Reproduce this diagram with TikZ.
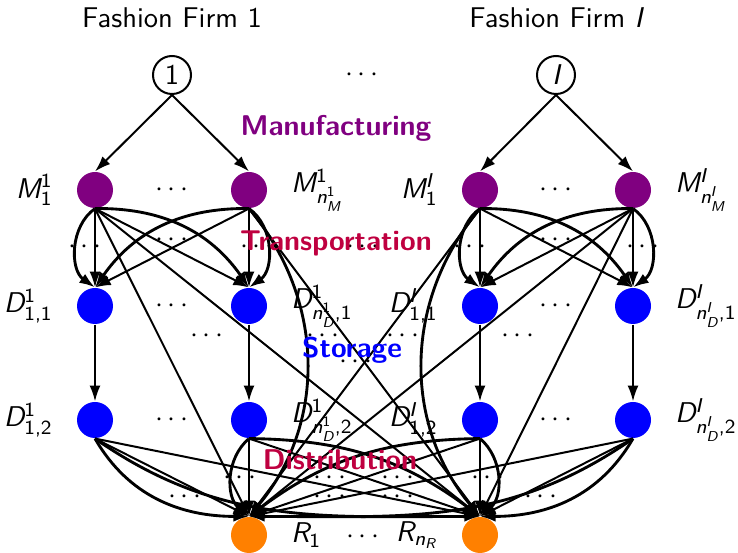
\documentclass[tikz,border=0pt]{standalone}
\usetikzlibrary{arrows.meta}
\DeclareSymbolFont{sfit}{TU}{lmss}{m}{sl}
\DeclareSymbolFont{sfup}{TU}{lmss}{m}{n}
\DeclareMathSymbol{M}{\mathalpha}{sfit}{`M}
\DeclareMathSymbol{D}{\mathalpha}{sfit}{`D}
\DeclareMathSymbol{R}{\mathalpha}{sfit}{`R}
\DeclareMathSymbol{I}{\mathalpha}{sfit}{`I}
\DeclareMathSymbol{n}{\mathalpha}{sfit}{`n}
\DeclareMathSymbol{1}{\mathord}{sfup}{`1}
\DeclareMathSymbol{2}{\mathord}{sfup}{`2}
\DeclareMathSymbol{,}{\mathpunct}{sfup}{`,}
\begin{document}
\begin{tikzpicture}[x=0.35pt,y=0.35pt,font=\sffamily,
  label distance=8pt,
  every label/.style={inner sep=0pt},
  firm/.style={circle,draw,line width=0.7pt,minimum size=13.3pt,inner sep=0pt},
  pnode/.style={circle,inner sep=0pt,minimum size=12.6pt},
  mnode/.style={pnode,fill=violet},
  dnode/.style={pnode,fill=blue},
  rnode/.style={pnode,fill=orange},
  arr/.style={-{Latex[length=5.5pt,width=3.8pt]},line width=0.7pt},
  curv/.style={arr,line width=1pt},
  dotlbl/.style={inner sep=0pt},
  sect/.style={font=\sffamily\bfseries},
]
\useasboundingbox (0,0) rectangle (738,553);

% titles and firm nodes
\node (T1) at (172,535) {Fashion Firm 1};
\node (TI) at (556,535) {Fashion Firm $I$};
\node[firm] (F1) at (172,478) {1};
\node[firm] (FI) at (556,478) {$I$};
\node[dotlbl] (dtop) at (362,478) {$\cdots$};

% manufacturing
\node[mnode,label=left:{$M_1^1$}] (M11) at (95,363) {};
\node[mnode,label=right:{$M^1_{n^1_M}$}] (M1n) at (249,363) {};
\node[mnode,label=left:{$M_1^I$}] (MI1) at (480,363) {};
\node[mnode,label=right:{$M^I_{n^I_M}$}] (MIn) at (633,363) {};

% distribution centres, level 1
\node[dnode,label=left:{$D^1_{1,1}$}] (A11) at (95,247) {};
\node[dnode,label=right:{$D^1_{n^1_D,1}$}] (A1n) at (249,247) {};
\node[dnode,label=left:{$D^I_{1,1}$}] (AI1) at (480,247) {};
\node[dnode,label=right:{$D^I_{n^I_D,1}$}] (AIn) at (633,247) {};

% distribution centres, level 2
\node[dnode,label=left:{$D^1_{1,2}$}] (B11) at (95,133) {};
\node[dnode,label=right:{$D^1_{n^1_D,2}$}] (B1n) at (249,133) {};
\node[dnode,label=left:{$D^I_{1,2}$}] (BI1) at (480,133) {};
\node[dnode,label=right:{$D^I_{n^I_D,2}$}] (BIn) at (633,133) {};

% retailers
\node[rnode,label=right:{$R_1$}] (R1) at (249,18) {};
\node[rnode,label=left:{$R_{n_R}$}] (Rn) at (480,18) {};

% row dots
\node[dotlbl] (dm1) at (172,363) {$\cdots$};
\node[dotlbl] (dmI) at (556,363) {$\cdots$};
\node[dotlbl] (da1) at (172,247) {$\cdots$};
\node[dotlbl] (daI) at (556,247) {$\cdots$};
\node[dotlbl] (db1) at (172,133) {$\cdots$};
\node[dotlbl] (dbI) at (556,133) {$\cdots$};
\node[dotlbl] (dr) at (363,16) {$\cdots$};

% manufacturing links
\draw[arr] (F1.south) -- (M11.north);
\draw[arr] (F1.south) -- (M1n.north);
\draw[arr] (FI.south) -- (MI1.north);
\draw[arr] (FI.south) -- (MIn.north);

% transportation links, firm 1
\draw[arr] (M11.south) -- (A11.north);
\draw[curv] (M11.south) to[bend right=55] (A11.north);
\draw[arr] (M11.south) -- (A1n.north);
\draw[curv] (M11.south) to[bend left=28] (A1n.north);
\draw[arr] (M1n.south) -- (A1n.north);
\draw[curv] (M1n.south) to[bend left=55] (A1n.north);
\draw[arr] (M1n.south) -- (A11.north);
\draw[curv] (M1n.south) to[bend right=28] (A11.north);
% transportation links, firm I
\draw[arr] (MI1.south) -- (AI1.north);
\draw[curv] (MI1.south) to[bend right=55] (AI1.north);
\draw[arr] (MI1.south) -- (AIn.north);
\draw[curv] (MI1.south) to[bend left=28] (AIn.north);
\draw[arr] (MIn.south) -- (AIn.north);
\draw[curv] (MIn.south) to[bend left=55] (AIn.north);
\draw[arr] (MIn.south) -- (AI1.north);
\draw[curv] (MIn.south) to[bend right=28] (AI1.north);

% direct shipments
\draw[arr] (M11.south) -- (R1.north);
\draw[arr] (M11.south) -- (Rn.north);
\draw[curv] (M1n.south) to[bend left=40] (R1.north);
\draw[arr] (M1n.south) -- (Rn.north);
\draw[arr] (MI1.south) -- (R1.north);
\draw[curv] (MI1.south) to[bend right=40] (Rn.north);
\draw[arr] (MIn.south) -- (R1.north);
\draw[arr] (MIn.south) -- (Rn.north);

% storage links
\draw[arr] (A11.south) -- (B11.north);
\draw[arr] (A1n.south) -- (B1n.north);
\draw[arr] (AI1.south) -- (BI1.north);
\draw[arr] (AIn.south) -- (BIn.north);

% distribution links, firm 1
\draw[arr] (B11.south) -- (R1.north);
\draw[curv] (B11.south) to[out=-60,in=180] (R1.north);
\draw[arr] (B11.south) -- (Rn.north);
\draw[curv] (B11.south) to[out=-35,in=180] (Rn.north);
\draw[arr] (B1n.south) -- (R1.north);
\draw[curv] (B1n.south) to[bend right=50] (R1.north);
\draw[arr] (B1n.south) -- (Rn.north);
\draw[curv] (B1n.south) to[bend left=18] (Rn.north);
% distribution links, firm I
\draw[arr] (BI1.south) -- (Rn.north);
\draw[curv] (BI1.south) to[bend left=50] (Rn.north);
\draw[arr] (BI1.south) -- (R1.north);
\draw[curv] (BI1.south) to[bend right=18] (R1.north);
\draw[arr] (BIn.south) -- (Rn.north);
\draw[curv] (BIn.south) to[out=-120,in=0] (Rn.north);
\draw[arr] (BIn.south) -- (R1.north);
\draw[curv] (BIn.south) to[out=-145,in=0] (R1.north);

% dots between parallel links
\node[dotlbl] (t1) at (85,306) {$\cdots$};
\node[dotlbl] (t2) at (257,306) {$\cdots$};
\node[dotlbl] (t3) at (172,313) {$\cdots$};
\node[dotlbl] (t4) at (363,306) {$\cdots$};
\node[dotlbl] (t5) at (470,306) {$\cdots$};
\node[dotlbl] (t6) at (643,306) {$\cdots$};
\node[dotlbl] (t7) at (556,313) {$\cdots$};
\node[dotlbl] (s1) at (207,217) {$\cdots$};
\node[dotlbl] (s2) at (323,217) {$\cdots$};
\node[dotlbl] (s3) at (403,217) {$\cdots$};
\node[dotlbl] (s4) at (518,217) {$\cdots$};
\node[dotlbl] (s5) at (356,191) {$\cdots$};
\node[dotlbl] (u1) at (240,75) {$\cdots$};
\node[dotlbl] (u2) at (330,75) {$\cdots$};
\node[dotlbl] (u3) at (398,75) {$\cdots$};
\node[dotlbl] (u4) at (488,75) {$\cdots$};
\node[dotlbl] (v1) at (185,56) {$\cdots$};
\node[dotlbl] (v2) at (330,56) {$\cdots$};
\node[dotlbl] (v3) at (398,56) {$\cdots$};
\node[dotlbl] (v4) at (541,56) {$\cdots$};

% section labels
\node[sect,text=violet] (Lm) at (336,425) {Manufacturing};
\node[sect,text=purple] (Lt) at (336,310) {Transportation};
\node[sect,text=blue] (Ls) at (352,203) {Storage};
\node[sect,text=purple] (Ld) at (340,93) {Distribution};
\end{tikzpicture}
\end{document}
